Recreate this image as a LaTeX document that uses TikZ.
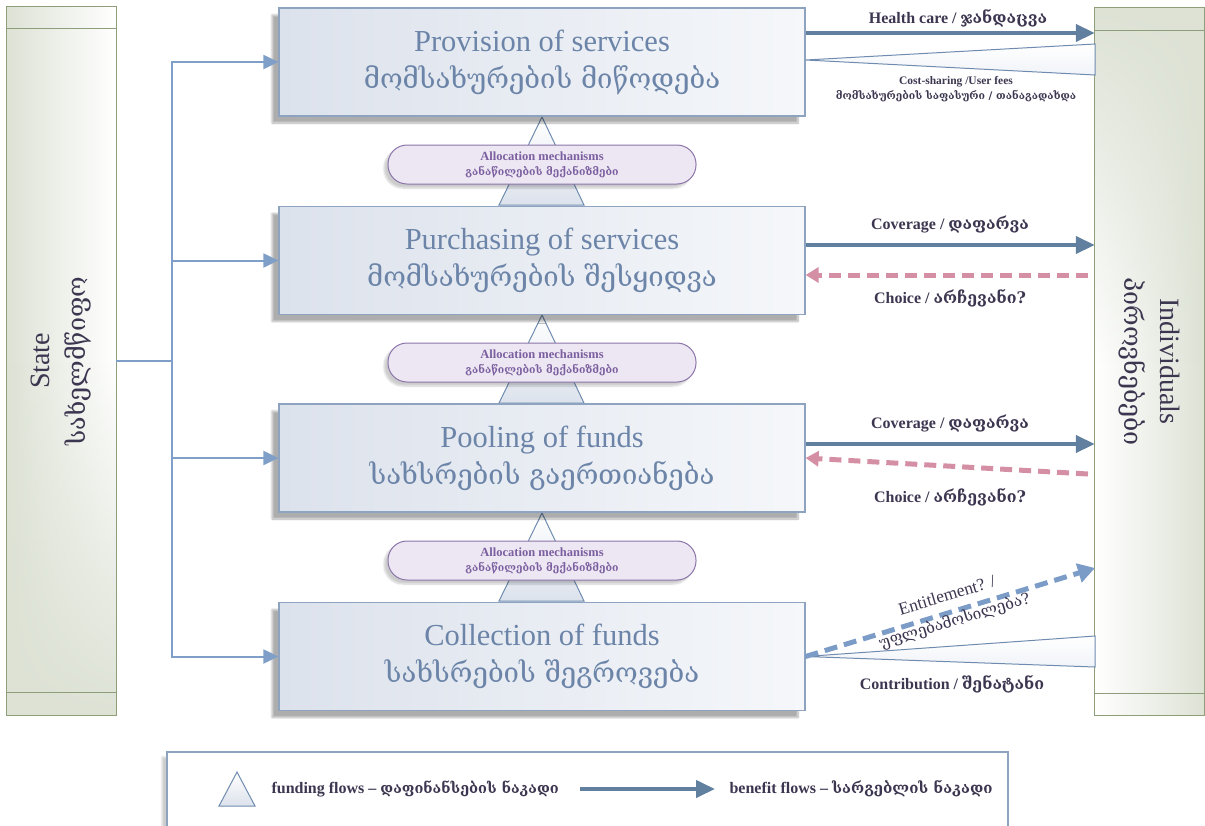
\documentclass[tikz,border=0pt]{standalone}
\usepackage{fontspec}
\setmainfont{Liberation Serif}
\newfontfamily\geo{DejaVu Serif}
\usetikzlibrary{arrows.meta,calc,shadows.blur,fadings}

\definecolor{boxline}{HTML}{8EA3C0}
\definecolor{boxtext}{HTML}{6B84A8}
\definecolor{boxfillA}{HTML}{DCE2EC}
\definecolor{boxfillB}{HTML}{F5F7FA}
\definecolor{feedcol}{HTML}{7F9FC8}
\definecolor{benefitcol}{HTML}{61809F}
\definecolor{choicecol}{HTML}{D48FA4}
\definecolor{entitlecol}{HTML}{7C9CC8}
\definecolor{ink}{HTML}{3D3650}
\definecolor{pillline}{HTML}{8B75A9}
\definecolor{pillfill}{HTML}{ECE7F2}
\definecolor{pilltext}{HTML}{7C5FA0}
\definecolor{sideline}{HTML}{8E9E7A}
\definecolor{sidefill}{HTML}{DDE2D5}
\definecolor{wedgeline}{HTML}{6F8CB0}
\definecolor{wedgefill}{HTML}{F0F3F8}

\begin{document}
\begin{tikzpicture}[x=1pt,y=-1pt,
  stage/.style={draw=boxline, line width=1.2pt, left color=boxfillA, right color=boxfillB,
    minimum width=526pt, minimum height=108pt, inner sep=0pt, align=center, text=boxtext,
    blur shadow={shadow xshift=-7pt, shadow yshift=-7pt, shadow opacity=32, shadow blur steps=10},
    font=\fontsize{30.5}{37}\selectfont},
  sidebox/.style={minimum width=109pt, minimum height=708pt, inner sep=0pt},
  sidetext/.style={align=center, text=ink, font=\fontsize{28}{36}\selectfont},
  pill/.style={draw=pillline, line width=1pt, fill=pillfill, rounded corners=19pt,
    minimum width=308pt, minimum height=39pt, inner sep=0pt, align=center, text=pilltext,
    blur shadow={shadow xshift=-4pt, shadow yshift=-4pt, shadow opacity=20, shadow blur steps=6},
    font=\bfseries\fontsize{12.5}{15}\selectfont},
  fundtri/.style={draw=wedgeline, line width=1pt, top color=white, bottom color=boxfillA},
  feed/.style={draw=feedcol, line width=2pt},
  feedarrow/.style={feed, -{Triangle[length=15pt,width=14pt]}},
  benefit/.style={draw=benefitcol, line width=4pt, -{Triangle[length=19pt,width=17pt]}},
  choice/.style={draw=choicecol, line width=5pt, dash pattern=on 12pt off 7pt,
    -{Triangle[length=13pt,width=15pt]}},
  entitle/.style={draw=entitlecol, line width=5pt, dash pattern=on 13pt off 7pt,
    -{Triangle[length=17pt,width=19pt]}},
  wedge/.style={draw=wedgeline, line width=1pt, top color=white, bottom color=wedgefill},
  flowlabel/.style={text=ink, align=center, font=\bfseries\fontsize{16}{20}\selectfont},
  smalllabel/.style={text=ink, align=center, font=\bfseries\fontsize{11.5}{15}\selectfont},
  legendtext/.style={text=ink, anchor=west, font=\bfseries\fontsize{16}{20}\selectfont},
]
\useasboundingbox (0,0) rectangle (1205,825);

% ---------- side actors ----------
\node[sidebox, left color=sidefill, right color=white] (state) at (61.5,361) {};
\fill[sidefill, path fading=north] (state.south west) rectangle (state.east);
\draw[sideline, line width=1.2pt] (state.north west) rectangle (state.south east);
\draw[sideline, line width=1.2pt] ($(state.north west)+(0,22)$) -- ($(state.north east)+(0,22)$);
\draw[sideline, line width=1.2pt] ($(state.south west)+(0,-23)$) -- ($(state.south east)+(0,-23)$);
\node[sidetext, rotate=90] (statelbl) at (state.center) {State\\{\geo\fontsize{25}{36}\selectfont სახელმწიფო}};

\node[sidebox, left color=white, right color=sidefill] (ind) at (1149.5,361.5) {};
\fill[sidefill, path fading=south] (ind.north west) rectangle (ind.east);
\draw[sideline, line width=1.2pt] (ind.north west) rectangle (ind.south east);
\draw[sideline, line width=1.2pt] ($(ind.north west)+(0,23)$) -- ($(ind.north east)+(0,23)$);
\draw[sideline, line width=1.2pt] ($(ind.south west)+(0,-22)$) -- ($(ind.south east)+(0,-22)$);
\node[sidetext, rotate=-90] (indlbl) at (ind.center) {Individuals\\{\geo\fontsize{25}{36}\selectfont პიროვნებები}};

% ---------- funding flow triangles (behind the stages) ----------
\coordinate (t1) at (542,117);
\coordinate (t2) at (542,315);
\coordinate (t3) at (542,513);
\draw[fundtri] (t1) -- ($(t1)+(42,88)$) -- ($(t1)+(-43,88)$) -- cycle;
\draw[fundtri] (t2) -- ($(t2)+(42,88)$) -- ($(t2)+(-43,88)$) -- cycle;
\draw[fundtri] (t3) -- ($(t3)+(42,88)$) -- ($(t3)+(-43,88)$) -- cycle;

% ---------- stages ----------
\newcommand\stagegeo{\geo\fontsize{27.5}{37}\selectfont}
\node[stage] (prov)  at (542,62)    {Provision of services\\{\stagegeo მომსახურების მიწოდება}};
\node[stage] (purch) at (542,260.5) {Purchasing of services\\{\stagegeo მომსახურების შესყიდვა}};
\node[stage] (pool)  at (542,458)   {Pooling of funds\\{\stagegeo სახსრების გაერთიანება}};
\node[stage] (coll)  at (542,656.5) {Collection of funds\\{\stagegeo სახსრების შეგროვება}};

% ---------- allocation mechanisms ----------
\newcommand\pillgeo{\geo\fontsize{10.5}{15}\selectfont}
\node[pill] (alloc1) at (542,164.5) {Allocation mechanisms\\{\pillgeo განაწილების მექანიზმები}};
\node[pill] (alloc2) at (542,362.5) {Allocation mechanisms\\{\pillgeo განაწილების მექანიზმები}};
\node[pill] (alloc3) at (542,560.5) {Allocation mechanisms\\{\pillgeo განაწილების მექანიზმები}};

% ---------- state funding feeds ----------
\coordinate (bus) at (172,361);
\draw[feed] (state.east) -- (bus);
\draw[feedarrow] (bus) |- (prov.west);
\draw[feedarrow] (bus) |- (purch.west);
\draw[feedarrow] (bus) |- (pool.west);
\draw[feedarrow] (bus) |- (coll.west);

% ---------- provision: health care and cost sharing ----------
\coordinate (hc) at ($(prov.east)+(0,-29)$);
\draw[benefit] (hc) -- (hc -| ind.west);
\node[flowlabel] (hclbl) at (958,18) {Health care / {\geo ჯანდაცვა}};
\coordinate (cs0) at ($(prov.east)+(0,-2)$);
\coordinate (cs1) at (1095,44);
\coordinate (cs2) at (1095,75);
\draw[wedge] (cs0) -- (cs1) -- (cs2) -- cycle;
\node[smalllabel] (cslbl) at (956,89) {Cost-sharing /User fees\\{\geo\fontsize{10.5}{15}\selectfont მომსახურების საფასური / თანაგადახდა}};

% ---------- purchasing: coverage and choice ----------
\coordinate (cv1) at ($(purch.east)+(0,-15.5)$);
\draw[benefit] (cv1) -- (cv1 -| ind.west);
\node[flowlabel] (cv1lbl) at (950,225) {Coverage / {\geo დაფარვა}};
\coordinate (ch1) at (1088,275);
\draw[choice] (ch1) -- (ch1 -| purch.east);
\node[flowlabel] (ch1lbl) at (950,298) {Choice / {\geo არჩევანი?}};

% ---------- pooling: coverage and choice ----------
\coordinate (cv2) at ($(pool.east)+(0,-14)$);
\draw[benefit] (cv2) -- (cv2 -| ind.west);
\node[flowlabel] (cv2lbl) at (950,424) {Coverage / {\geo დაფარვა}};
\coordinate (ch2) at (1088,474);
\draw[choice] (ch2) -- (pool.east);
\node[flowlabel] (ch2lbl) at (950,497) {Choice / {\geo არჩევანი?}};

% ---------- collection: contribution and entitlement ----------
\coordinate (ct1) at (1095,636);
\coordinate (ct2) at (1095,667);
\draw[wedge] (coll.east) -- (ct1) -- (ct2) -- cycle;
\node[flowlabel] (ctlbl) at (952,684) {Contribution / {\geo შენატანი}};
\coordinate (en) at (1095,568);
\draw[entitle] (coll.east) -- (en);
\node[text=ink, align=center, rotate=16.7, font=\fontsize{17.5}{26}\selectfont] (enlbl) at (951,609)
  {Entitlement? /\\{\geo\fontsize{15.5}{26}\selectfont უფლებამოსილება?}};

% ---------- legend ----------
\path[draw=boxline, line width=1.2pt, fill=white,
  blur shadow={shadow xshift=-5pt, shadow yshift=-5pt, shadow opacity=20, shadow blur steps=8}]
  (167,752) rectangle (1008,845);
\coordinate (lt) at (237,772);
\draw[fundtri] (lt) -- ($(lt)+(18,34)$) -- ($(lt)+(-18,34)$) -- cycle;
\node[legendtext] (fundlbl) at (268,789) {funding flows -- {\geo\fontsize{14.5}{20}\selectfont დაფინანსების ნაკადი}};
\coordinate (la) at (580,789);
\draw[benefit] (la) -- ($(la)+(135,0)$) coordinate (lb);
\node[legendtext] (benlbl) at (726,789) {benefit flows -- {\geo\fontsize{15}{20}\selectfont სარგებლის ნაკადი}};
\end{tikzpicture}
\end{document}
